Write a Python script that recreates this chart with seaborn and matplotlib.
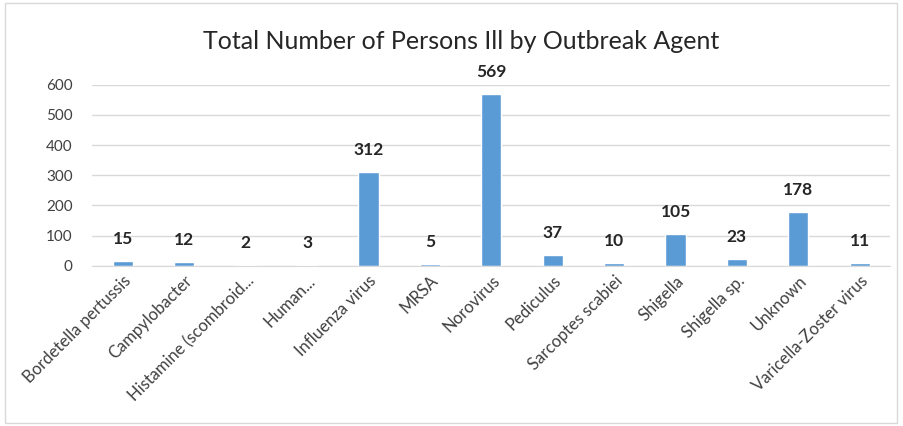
import matplotlib
matplotlib.use("Agg")
import matplotlib.pyplot as plt
import seaborn as sns
import pandas as pd
from matplotlib.patches import Rectangle

agents = ["Bordetella pertussis", "Campylobacter", "Histamine (scombroid...",
          "Human...", "Influenza virus", "MRSA", "Norovirus", "Pediculus",
          "Sarcoptes scabiei", "Shigella", "Shigella sp.", "Unknown",
          "Varicella-Zoster virus"]
persons_ill = [15, 12, 2, 3, 312, 5, 569, 37, 10, 105, 23, 178, 11]

df = pd.DataFrame({"agent": agents, "ill": persons_ill})

sns.set_style("white")
plt.rcParams["font.family"] = ["Lato", "DejaVu Sans"]

fig = plt.figure(figsize=(9.04, 4.26), dpi=100)
ax = fig.add_axes([0.102, 0.376, 0.883, 0.425])

sns.barplot(data=df, x="agent", y="ill", color="#5B9BD5", width=0.33,
            saturation=1, ax=ax)

for i, v in enumerate(persons_ill):
    ax.annotate(str(v), xy=(i, v), xytext=(0, 10), textcoords="offset points",
                ha="center", va="bottom", fontsize=12.5, fontweight="bold",
                color="#262626")

ax.set_ylim(0, 600)
ax.set_yticks(range(0, 601, 100))
ax.set_xlim(-0.5, len(agents) - 0.5)
ax.yaxis.grid(True, color="#D9D9D9", linewidth=1)
ax.set_axisbelow(True)
for s in ["top", "right", "left"]:
    ax.spines[s].set_visible(False)
ax.spines["bottom"].set_color("#D9D9D9")
ax.tick_params(axis="y", length=0, labelsize=11, labelcolor="#404040", pad=14)
ax.tick_params(axis="x", length=0, labelsize=12, labelcolor="#404040", pad=5)
plt.setp(ax.get_xticklabels(), rotation=45, ha="right", rotation_mode="anchor")
ax.set_xlabel("")
ax.set_ylabel("")

fig.suptitle("Total Number of Persons Ill by Outbreak Agent", x=0.51, y=0.93,
             fontsize=18, color="#262626")

fig.patches.append(Rectangle((0.006, 0.006), 0.986, 0.988, transform=fig.transFigure,
                             fill=False, edgecolor="#D9D9D9", linewidth=1))

fig.savefig("out.png", dpi=100)
